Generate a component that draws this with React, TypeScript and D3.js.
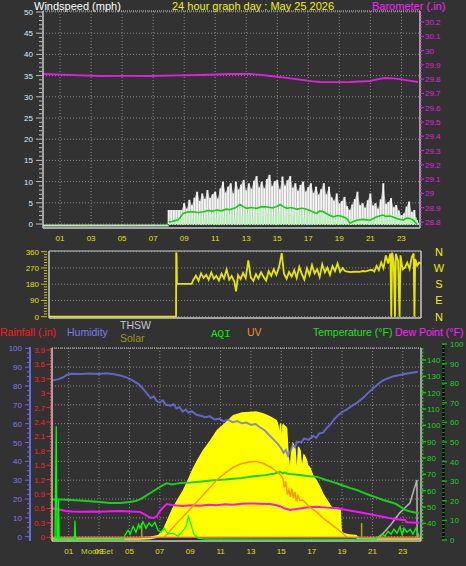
import React from "react";
import * as d3 from "d3";

type P = [number, number];

const FONT = "'Liberation Sans', Arial, Helvetica, sans-serif";
const MONO = "'Liberation Mono', 'DejaVu Sans Mono', monospace";
const BG = "#323232";
const GRID = "#8a8a8a";
const FRAME = "#c8c8c8";

// ---------- ticks / labels ----------
const hourTicks = [1, 3, 5, 7, 9, 11, 13, 15, 17, 19, 21, 23];
const hourTickLabels = ["01", "03", "05", "07", "09", "11", "13", "15", "17", "19", "21", "23"];
const windTicks = [0, 5, 10, 15, 20, 25, 30, 35, 40, 45, 50];
const baroTicks = [28.8, 28.9, 29.0, 29.1, 29.2, 29.3, 29.4, 29.5, 29.6, 29.7, 29.8, 29.9, 30.0, 30.1, 30.2];
const baroTickLabels = ["28.8", "28.9", "29", "29.1", "29.2", "29.3", "29.4", "29.5", "29.6", "29.7", "29.8", "29.9", "30", "30.1", "30.2"];
const dirTicks = [0, 90, 180, 270, 360];
const compassLabels = ["N", "E", "S", "W", "N"];
const humidityTicks = [0, 10, 20, 30, 40, 50, 60, 70, 80, 90, 100];
const rainTicks = [0, 0.3, 0.6, 0.9, 1.2, 1.5, 1.8, 2.1, 2.4, 2.7, 3.0, 3.3, 3.6, 3.9];
const rainTickLabels = ["0", "0.3", "0.6", "0.9", "1.2", "1.5", "1.8", "2.1", "2.4", "2.7", "3", "3.3", "3.6", "3.9"];
const tempTicks = [40, 50, 60, 70, 80, 90, 100, 110, 120, 130, 140];
const aqiTicks = [0, 10, 20, 30, 40, 50, 60, 70, 80, 90, 100];
const sunEvents = [5.81, 20.29];

// ---------- top panel data ----------
const barometer: P[] = [
  [-0.1, 29.836], [1.5, 29.83], [3.57, 29.822], [5.2, 29.823], [6.8, 29.822], [8.5, 29.826], [10.02, 29.829],
  [11.95, 29.836], [13.24, 29.836], [14.0, 29.83], [14.53, 29.822], [15.5, 29.81], [16.46, 29.797],
  [17.2, 29.786], [17.75, 29.78], [18.7, 29.779], [19.69, 29.78], [20.98, 29.787], [21.5, 29.8],
  [21.94, 29.808], [22.5, 29.806], [22.91, 29.8], [23.5, 29.79], [24.07, 29.78],
];

const windStartHour = 8.0;
const windStepHour = 1 / 6;
const gustValues = [
  3.3, 3.3, 3.3, 3.3, 3.3, 3.3, 4.9, 3.6, 5.7, 4.4, 6.2, 7.6, 5.4, 7.2, 5.9, 8.0, 6.1, 7.0, 7.6, 6.0,
  8.4, 10.0, 7.4, 8.8, 9.6, 7.2, 10.0, 8.1, 9.3, 10.4, 7.9, 9.6, 8.3, 10.2, 11.3, 8.6, 10.0, 8.4, 10.6, 11.6,
  8.9, 10.1, 10.4, 8.2, 11.2, 9.0, 10.3, 11.3, 8.5, 9.6, 7.8, 9.2, 10.0, 7.6, 8.7, 9.6, 7.3, 8.8, 6.9, 8.2,
  9.6, 7.0, 8.8, 6.3, 5.5, 7.2, 4.8, 5.4, 6.4, 4.2, 3.3, 4.6, 5.9, 7.6, 4.4, 4.9, 3.8, 5.6, 7.2, 4.3,
  4.9, 3.6, 5.8, 9.6, 4.7, 5.2, 6.1, 3.9, 4.5, 3.2, 2.0, 2.5, 4.1, 5.3, 2.8, 3.3, 0.9,
];
const speedValues = [
  1.2, 1.0, 1.3, 0.9, 1.2, 1.4, 2.2, 1.0, 2.6, 1.4, 3.0, 1.8, 2.8, 1.2, 3.2, 1.6, 2.5, 3.4, 1.5, 2.9,
  3.6, 1.7, 3.0, 2.2, 3.5, 1.4, 2.8, 3.8, 1.9, 3.1, 2.4, 3.6, 1.6, 3.3, 2.6, 3.9, 1.8, 3.2, 2.5, 3.7,
  1.9, 3.4, 2.7, 3.8, 1.7, 3.5, 2.4, 3.1, 1.8, 3.3, 2.2, 3.0, 1.6, 2.9, 2.3, 3.1, 1.5, 2.6, 1.9, 2.8,
  1.4, 2.4, 1.7, 2.0, 1.1, 1.8, 0.9, 1.6, 1.2, 0.8, 0.3, 1.1, 0.7, 1.5, 0.9, 1.3, 0.6, 1.2, 1.7, 0.9,
  1.9, 1.3, 2.2, 1.6, 2.4, 1.2, 2.0, 1.5, 2.3, 1.0, 0.8, 1.3, 1.8, 2.1, 1.0, 1.5, 0.3,
];
const speedIdle: P[] = [[-0.1, 0], [8.0, 0]];
const windAverage: P[] = [
  [8.0, 0.5], [8.2, 0.6], [8.4, 0.8], [8.62, 1.0], [8.8, 1.8], [8.94, 2.5], [9.2, 2.8], [9.59, 2.9], [9.9, 2.7],
  [10.23, 2.9], [10.6, 3.2], [10.8, 3.0], [11.1, 3.3], [11.4, 3.1], [11.7, 3.5], [11.95, 3.4], [12.3, 3.8],
  [12.6, 4.6], [12.8, 4.1], [13.03, 3.7], [13.3, 3.9], [13.67, 3.7], [14.0, 4.1], [14.32, 4.0], [14.7, 3.8],
  [15.0, 4.2], [15.18, 4.6], [15.4, 4.1], [15.61, 3.7], [15.9, 3.9], [16.25, 3.5], [16.6, 3.7], [16.9, 3.5],
  [17.2, 3.0], [17.54, 2.5], [17.75, 3.1], [17.97, 2.9], [18.3, 2.2], [18.61, 1.7], [18.9, 2.0], [19.26, 1.7],
  [19.5, 1.2], [19.69, 0.2], [19.9, 0.6], [20.12, 0.9], [20.5, 1.1], [20.98, 0.9], [21.2, 1.3], [21.41, 1.7],
  [21.8, 2.1], [22.0, 1.8], [22.27, 1.9], [22.5, 1.6], [22.7, 1.3], [22.9, 1.1], [23.12, 0.9], [23.35, 1.4],
  [23.56, 1.3], [23.8, 0.8], [23.99, 0.0],
];

// ---------- wind direction ----------
const windDirection: P[] = [
  [-0.1, 0], [8.2, 0], [8.21, 355], [8.23, 350], [8.26, 182], [9.22, 182],
  [9.33, 205], [9.5, 228], [9.67, 198], [9.83, 240], [10.0, 215], [10.17, 232], [10.33, 205], [10.5, 245],
  [10.67, 210], [10.83, 226], [11.0, 200], [11.17, 238], [11.33, 212], [11.5, 262], [11.67, 205], [11.83, 225],
  [12.0, 196], [12.12, 140], [12.25, 230], [12.42, 208], [12.58, 242], [12.75, 214], [12.92, 312], [13.08, 218],
  [13.25, 198], [13.42, 236], [13.58, 212], [13.75, 246], [13.92, 220], [14.08, 200], [14.25, 252], [14.42, 226],
  [14.58, 262], [14.75, 232], [14.92, 272], [15.1, 352], [15.25, 238], [15.42, 210], [15.58, 248], [15.75, 222],
  [15.92, 258], [16.08, 214], [16.25, 276], [16.42, 236], [16.58, 205], [16.75, 268], [16.92, 230], [17.08, 286],
  [17.25, 240], [17.42, 262], [17.58, 220], [17.75, 290], [17.92, 245], [18.08, 272], [18.25, 232], [18.42, 280],
  [18.58, 252], [18.75, 295], [18.92, 248], [19.08, 270], [19.25, 252], [19.4, 250], [19.6, 247], [19.8, 249],
  [20.0, 250], [20.2, 248], [20.4, 253], [20.6, 251], [20.8, 256], [21.0, 260], [21.15, 250], [21.3, 282],
  [21.45, 258], [21.6, 300], [21.75, 268], [21.9, 340], [22.05, 295], [22.2, 350], [22.26, 0], [22.32, 355],
  [22.42, 300], [22.5, 0], [22.56, 348], [22.7, 310], [22.8, 0], [22.86, 340], [23.0, 262], [23.15, 272],
  [23.3, 300], [23.45, 265], [23.6, 330], [23.72, 350], [23.77, 0], [23.82, 320], [23.95, 282], [24.08, 300],
  [24.18, 295],
];

// ---------- bottom panel ----------
const humidity: P[] = [
  [-0.05, 83], [0.3, 83.5], [0.6, 84.5], [0.9, 86], [1.2, 86.5], [1.8, 86.3], [2.4, 86.6], [3.0, 86.4],
  [3.5, 86.8], [4.0, 86.2], [4.4, 85.6], [4.8, 84.6], [5.2, 83], [5.6, 81], [5.9, 78.5], [6.2, 75.5],
  [6.4, 73.5], [6.6, 74.5], [6.8, 72], [7.0, 71.2], [7.2, 72.3], [7.4, 70], [7.7, 69.5], [7.9, 70.3],
  [8.1, 68], [8.3, 68.8], [8.5, 66.4], [8.7, 67.5], [8.9, 65.8], [9.1, 66.6], [9.4, 64.8], [9.7, 64.2],
  [10.0, 63.4], [10.3, 63.9], [10.6, 62.2], [10.9, 62.6], [11.2, 61.3], [11.5, 62], [11.8, 60.8], [12.1, 61.4],
  [12.4, 60.2], [12.7, 60.6], [13.0, 59.3], [13.3, 59.8], [13.6, 58], [13.9, 56.5], [14.2, 54], [14.5, 51.5],
  [14.8, 49], [15.0, 46.8], [15.15, 44.5], [15.3, 46], [15.45, 43], [15.6, 45.5], [15.75, 48.5], [15.9, 47.5],
  [16.05, 50.5], [16.3, 50], [16.5, 52.2], [16.8, 51.4], [17.1, 53.5], [17.3, 52.5], [17.5, 54.8], [17.75, 55.2],
  [18.0, 57.8], [18.25, 59.8], [18.5, 62.5], [18.75, 64.5], [19.0, 66.2], [19.3, 67.5], [19.6, 69.2], [19.9, 70.6],
  [20.2, 72.5], [20.5, 74.6], [20.8, 77], [21.1, 79], [21.4, 81.2], [21.7, 83], [22.0, 84], [22.4, 85.2],
  [22.8, 85.8], [23.2, 86.5], [23.6, 87], [24.0, 87.5],
];
const solar: P[] = [
  [-0.1, 0], [5.69, 0], [6.35, 3], [6.88, 10], [7.21, 40], [7.54, 100], [7.87, 160], [8.2, 205], [8.53, 249],
  [8.86, 305], [9.18, 365], [9.51, 415], [9.84, 460], [10.3, 510], [10.75, 566], [11.29, 605], [11.82, 646],
  [12.41, 660], [12.94, 663], [13.33, 665], [13.79, 656], [14.25, 640], [14.7, 619], [14.78, 600], [14.87, 524],
  [14.95, 610], [15.05, 460], [15.11, 600], [15.24, 590], [15.35, 584], [15.44, 450], [15.57, 339], [15.67, 450],
  [15.77, 500], [15.9, 478], [16.03, 320], [16.13, 480], [16.23, 470], [16.36, 360], [16.49, 440], [16.63, 420],
  [16.76, 380], [16.89, 372], [17.09, 330], [17.33, 302], [17.55, 270], [17.75, 233], [18.01, 200], [18.32, 160],
  [18.6, 158], [18.87, 153], [18.93, 60], [18.97, 28], [19.19, 20], [19.52, 14], [19.97, 10], [20.05, 0], [24.2, 0],
];
const uvIndex: P[] = [
  [7.3, 0], [7.67, 0.5], [8.07, 1.1], [8.53, 1.72], [8.99, 2.35], [9.3, 2.8], [9.65, 3.28], [10.17, 4.0],
  [10.75, 4.83], [11.29, 5.4], [11.82, 5.9], [12.35, 6.2], [12.94, 6.37], [13.33, 6.4], [13.79, 6.24],
  [14.25, 5.95], [14.7, 5.53], [14.91, 5.3], [15.11, 4.97], [15.2, 4.2], [15.3, 4.7], [15.4, 3.6], [15.5, 4.0],
  [15.6, 3.4], [15.7, 4.1], [15.8, 3.3], [15.9, 3.8], [16.0, 3.0], [16.1, 3.5], [16.23, 3.1], [16.42, 3.13],
  [16.89, 2.5], [17.33, 2.1], [17.75, 1.6], [18.21, 1.16], [18.67, 0.7], [19.08, 0.25], [19.3, 0],
];
const temperature: P[] = [
  [-0.1, 54.5], [0.5, 54.6], [1.09, 54.3], [1.74, 54], [2.4, 53.5], [3.06, 53], [3.72, 52.5], [4.38, 52.4],
  [5.04, 53], [5.4, 53.6], [5.69, 54.6], [6.0, 56.3], [6.35, 58.4], [6.6, 59.8], [6.88, 61.5], [7.15, 63],
  [7.45, 64.5], [7.8, 63.8], [8.1, 64.3], [8.53, 64.9], [9.0, 65], [9.65, 65.5], [10.2, 66], [10.75, 66.5],
  [11.3, 66.8], [11.82, 67.3], [12.4, 67.8], [12.94, 68.5], [13.4, 69], [13.92, 69.5], [14.3, 70.1], [14.57, 70.5],
  [14.91, 71.6], [15.1, 70.6], [15.24, 71.2], [15.4, 70.4], [15.57, 70.2], [15.9, 69.9], [16.23, 69.6], [16.6, 69.1],
  [16.89, 68.8], [17.33, 68.5], [17.65, 67.5], [17.95, 66.5], [18.3, 65.5], [18.65, 64.5], [19.0, 63.3], [19.26, 62.5],
  [19.6, 61.4], [19.97, 60.4], [20.4, 58.8], [20.84, 57.2], [21.3, 55.7], [21.7, 54.3], [22.1, 53.2], [22.56, 51.8],
  [22.9, 49.8], [23.15, 48.2], [23.5, 47.2], [23.8, 46.6], [24.05, 46],
];
const dewPoint: P[] = [
  [-0.1, 49.2], [0.3, 48.6], [0.8, 47.6], [1.2, 47.2], [1.74, 47], [2.5, 47.2], [3.06, 47], [3.8, 47.4],
  [4.4, 47.6], [5.0, 47.3], [5.69, 47], [6.0, 45.5], [6.35, 43.5], [6.6, 43.2], [6.8, 44.5], [7.01, 47.5],
  [7.25, 50], [7.45, 51.8], [7.8, 51.2], [8.1, 50.9], [8.53, 50.6], [9.0, 51.1], [9.65, 50.8], [10.2, 51.3],
  [10.75, 51.1], [11.3, 51.6], [11.82, 51.4], [12.4, 52], [12.94, 52.2], [13.6, 52], [14.25, 51.8], [14.6, 51.2],
  [14.91, 50.5], [15.2, 49.2], [15.57, 48.1], [15.9, 48.6], [16.23, 49], [16.8, 49.8], [17.33, 50.2], [18.0, 49.6],
  [18.65, 49.2], [19.3, 48.2], [19.97, 47.1], [20.4, 46.3], [20.84, 45.5], [21.3, 44.7], [21.7, 44], [22.1, 43.2],
  [22.56, 42.5], [22.9, 42.2], [23.15, 42], [23.25, 40.6], [23.6, 40.5], [24.05, 40.3],
];
const thsw: P[] = [[21.2, 30], [21.5, 31.8], [22.2, 39], [22.8, 46.4], [23.47, 52.4], [23.93, 66.5], [23.95, 30]];
const aqi: P[] = [
  [-0.1, 0], [0.1, 0.5], [0.18, 58], [0.23, 0.5], [0.3, 0.5], [0.33, 20], [0.37, 0.5], [1.38, 0.5], [1.41, 10],
  [1.45, 0.3], [4.6, 0.3], [4.71, 2.5], [4.91, 5], [5.05, 3], [5.24, 7], [5.43, 4], [5.6, 8], [5.69, 6],
  [5.89, 9.3], [6.09, 6], [6.29, 8.7], [6.48, 7], [6.68, 9], [6.88, 5], [7.08, 4], [7.28, 6], [7.54, 3],
  [7.87, 3.5], [8.2, 2], [8.46, 4], [8.73, 7], [8.88, 12], [9.05, 8], [9.25, 3], [9.51, 1], [9.98, 0.5],
  [21.17, 0.3], [21.37, 1.5], [21.63, 3], [21.83, 2], [22.03, 4.5], [22.23, 3], [22.42, 5.5], [22.62, 3.5],
  [22.82, 6.8], [22.96, 2.5], [23.08, 6], [23.28, 4], [23.48, 5.5], [23.67, 3], [23.87, 6], [24.07, 2],
];
const rainfall: P[] = [[-0.1, 0], [24.2, 0]];

const T_DOMAIN = [-0.1, 24.2];

export default function App() {
  const xTop = d3.scaleLinear().domain(T_DOMAIN).range([43, 420]);
  const xDir = d3.scaleLinear().domain(T_DOMAIN).range([49, 421]);
  const xBot = d3.scaleLinear().domain(T_DOMAIN).range([52, 421]);

  const yWind = d3.scaleLinear().domain([0, 50]).range([224, 12]);
  const yBaro = d3.scaleLinear().domain([28.8, 30.2]).range([222, 22]);
  const yDir = d3.scaleLinear().domain([0, 360]).range([316.7, 251.7]);
  const yHum = d3.scaleLinear().domain([0, 100]).range([536.7, 348.3]);
  const yRain = d3.scaleLinear().domain([0, 3.9]).range([537.3, 350]);
  const yTemp = d3.scaleLinear().domain([40, 140]).range([523.3, 360]);
  const yAqi = d3.scaleLinear().domain([0, 100]).range([540, 344]);
  const ySolar = d3.scaleLinear().domain([0, 1000]).range([537, 348]);
  const yUv = d3.scaleLinear().domain([0, 16]).range([537, 348]);

  const line = (x: d3.ScaleLinear<number, number>, y: d3.ScaleLinear<number, number>) =>
    d3.line<P>().x((d) => x(d[0])).y((d) => y(d[1]));

  const windHour = (i: number) => windStartHour + i * windStepHour;
  const gustArea = d3
    .area<number>()
    .x((_, i) => xTop(windHour(i)))
    .y0(yWind(0))
    .y1((d) => yWind(d));
  const solarArea = d3.area<P>().x((d) => xBot(d[0])).y0(ySolar(0)).y1((d) => ySolar(d[1]));

  const txt = (s: string, x: number, y: number, fill: string, size = 8, anchor = "start", family = FONT) => (
    <text x={x} y={y} fill={fill} fontSize={size} fontFamily={family} textAnchor={anchor as any}>
      {s}
    </text>
  );

  return (
    <svg width={466} height={566} style={{ position: "fixed", left: 0, top: 0, background: BG, display: "block" }}>
      <rect x={0} y={0} width={466} height={566} fill={BG} />

      {/* ================= TOP PANEL ================= */}
      {txt("Windspeed (mph)", 34, 9.5, "#ffffff", 11)}
      {txt("24 hour graph day : May 25 2026", 172, 9.5, "#f2f200", 11)}
      {txt("Barometer (.in)", 372, 9.5, "#ff20ff", 11)}

      <g>
        {windTicks.map((t) => (
          <line key={"wg" + t} x1={43} x2={420} y1={yWind(t)} y2={yWind(t)} stroke={GRID} strokeDasharray="1 2" />
        ))}
        {hourTicks.map((h) => (
          <line key={"wv" + h} x1={xTop(h)} x2={xTop(h)} y1={11} y2={228} stroke={GRID} strokeDasharray="1 2" />
        ))}
      </g>

      {/* wind gust envelope + bars */}
      <path d={gustArea(gustValues) || ""} fill="#a4a4a4" />
      {gustValues.map((v, i) => (
        <line key={"gb" + i} x1={xTop(windHour(i))} x2={xTop(windHour(i))} y1={yWind(0)} y2={yWind(v)} stroke="#f4f4f4" strokeWidth={2} />
      ))}
      {speedValues.map((v, i) => (
        <line
          key={"sb" + i}
          x1={xTop(windHour(i) + windStepHour / 2)}
          x2={xTop(windHour(i) + windStepHour / 2)}
          y1={yWind(0) + 1}
          y2={yWind(v)}
          stroke="#b8ecb8"
          strokeWidth={2}
        />
      ))}
      <path d={line(xTop, yWind)(speedIdle) || ""} fill="none" stroke="#b8ecb8" strokeWidth={2} transform="translate(0,1.5)" />
      <path d={line(xTop, yWind)(windAverage) || ""} fill="none" stroke="#10d010" strokeWidth={1.6} />
      <path d={line(xTop, yBaro)(barometer) || ""} fill="none" stroke="#e020e0" strokeWidth={1.8} />

      {/* frame */}
      <line x1={43} x2={420} y1={11} y2={11} stroke={FRAME} strokeDasharray="1 1" />
      <line x1={43} x2={43} y1={11} y2={228} stroke={FRAME} strokeWidth={1.5} />
      <line x1={420} x2={420} y1={11} y2={228} stroke={FRAME} strokeWidth={1.5} />
      <line x1={43} x2={420} y1={228} y2={228} stroke={FRAME} strokeWidth={1.5} />

      {/* wind axis */}
      {d3.range(0, 50.01, 1).map((t) => (
        <line key={"wm" + t} x1={t % 5 === 0 ? 36 : 39} x2={42} y1={yWind(t)} y2={yWind(t)} stroke="#bdbdbd" />
      ))}
      {windTicks.map((t) => (
        <g key={"wl" + t}>{txt(String(t), 33, yWind(t) + 3, "#dfeaf7", 8, "end")}</g>
      ))}
      {/* barometer axis */}
      <line x1={421} x2={421} y1={12} y2={226} stroke="#e020e0" strokeDasharray="1 2" strokeWidth={1.5} />
      {baroTicks.map((t, i) => (
        <g key={"bl" + t}>
          <line x1={420} x2={424} y1={yBaro(t)} y2={yBaro(t)} stroke="#e020e0" />
          {txt(baroTickLabels[i], 425, yBaro(t) + 3, "#e020e0", 8)}
        </g>
      ))}
      {/* top x labels */}
      {hourTicks.map((h, i) => (
        <g key={"xl" + h}>{txt(hourTickLabels[i], xTop(h), 241, "#e0e000", 8, "middle")}</g>
      ))}

      {/* ================= DIRECTION PANEL ================= */}
      {dirTicks.map((t) => (
        <line key={"dg" + t} x1={49} x2={421} y1={yDir(t)} y2={yDir(t)} stroke={GRID} strokeDasharray="1 2" />
      ))}
      <path d={line(xDir, yDir)(windDirection) || ""} fill="none" stroke="#e6e600" strokeWidth={1.8} />
      <line x1={49} x2={421} y1={251} y2={251} stroke={FRAME} />
      <line x1={49} x2={421} y1={318} y2={318} stroke={FRAME} strokeWidth={1.5} />
      <line x1={49} x2={49} y1={251} y2={318} stroke={FRAME} strokeWidth={1.5} />
      <line x1={421} x2={421} y1={251} y2={318} stroke={FRAME} strokeWidth={1.5} />
      {d3.range(0, 360.1, 15).map((t) => (
        <line key={"dm" + t} x1={t % 90 === 0 ? 41 : 44} x2={47} y1={yDir(t)} y2={yDir(t)} stroke="#c8c800" />
      ))}
      {dirTicks.map((t, i) => (
        <g key={"dl" + t}>
          {txt(String(t), 39, yDir(t) + 3, "#e0e000", 8, "end")}
          {txt(compassLabels[i], 439, yDir(t) + 4, "#f0f000", 11, "middle")}
        </g>
      ))}

      {/* ================= BOTTOM PANEL ================= */}
      {txt("Rainfall (.in)", 0, 336, "#ff1a1a", 10.5)}
      {txt("Humidity", 67, 336, "#7b7bef", 10.5)}
      {txt("THSW", 120, 329, "#c8c8c8", 10.5)}
      {txt("Solar", 120, 342, "#9a9a10", 10.5)}
      {txt("AQI", 211, 337, "#00f000", 11, "start", MONO)}
      {txt("UV", 247, 336, "#ff8c1a", 10.5)}
      {txt("Temperature (°F)", 313, 336, "#20e020", 10.5)}
      {txt("Dew Point (°F)", 395, 336, "#ff20ff", 10.5)}

      {humidityTicks.map((t) => (
        <line key={"hg" + t} x1={52} x2={421} y1={yHum(t)} y2={yHum(t)} stroke={GRID} strokeDasharray="1 2" />
      ))}
      {hourTicks.map((h) => (
        <line key={"bv" + h} x1={xBot(h)} x2={xBot(h)} y1={348} y2={541} stroke={GRID} strokeDasharray="1 2" />
      ))}

      <path d={solarArea(solar) || ""} fill="#ffff00" />
      <path d={line(xBot, ySolar)(solar) || ""} fill="none" stroke="#ffff00" strokeWidth={1.5} transform="translate(0,2)" />
      {sunEvents.map((h) => (
        <line key={"se" + h} x1={xBot(h)} x2={xBot(h)} y1={523} y2={537} stroke="#a8a810" strokeWidth={1.5} />
      ))}
      <path d={line(xBot, yHum)(humidity) || ""} fill="none" stroke="#7070e8" strokeOpacity={0.8} strokeWidth={2} />
      <path d={line(xBot, yTemp)(thsw) || ""} fill="none" stroke="#b4b4b4" strokeWidth={1.5} />
      <path d={line(xBot, yTemp)(temperature) || ""} fill="none" stroke="#18d018" strokeWidth={2} />
      <path d={line(xBot, yTemp)(dewPoint) || ""} fill="none" stroke="#ff10ff" strokeWidth={2} />
      <path d={line(xBot, yUv)(uvIndex) || ""} fill="none" stroke="#ff9410" strokeWidth={1.5} />
      <path d={line(xBot, yRain)(rainfall) || ""} fill="none" stroke="#ff6a6a" strokeWidth={1.5} strokeOpacity={0.85} />
      <path d={line(xBot, yAqi)(aqi) || ""} fill="none" stroke="#00ff00" strokeWidth={1.3} />

      {/* frame */}
      <line x1={52} x2={421} y1={348} y2={348} stroke={FRAME} strokeDasharray="1 1" />
      <line x1={52} x2={52} y1={348} y2={541} stroke={FRAME} strokeWidth={1.5} />
      <line x1={421} x2={421} y1={348} y2={541} stroke={FRAME} strokeWidth={1.5} />
      <line x1={52} x2={421} y1={541} y2={541} stroke={FRAME} strokeWidth={1.5} />

      {/* humidity axis */}
      <line x1={30} x2={30} y1={347} y2={541} stroke="#6a6ae6" strokeWidth={2} />
      {d3.range(0, 100.1, 2.5).map((t) => (
        <line key={"hm" + t} x1={t % 10 === 0 ? 25 : 27} x2={30} y1={yHum(t)} y2={yHum(t)} stroke="#6a6ae6" />
      ))}
      {humidityTicks.map((t) => (
        <g key={"hl" + t}>{txt(String(t), 22, yHum(t) + 3, "#7b7bef", 8, "end")}</g>
      ))}
      {/* rainfall axis */}
      <line x1={50.5} x2={50.5} y1={348} y2={540} stroke="#ff2020" strokeDasharray="2 1" />
      {rainTicks.map((t, i) => (
        <g key={"rl" + t}>
          <line x1={46.5} x2={51} y1={yRain(t)} y2={yRain(t)} stroke="#ff2020" />
          {txt(rainTickLabels[i], 45, yRain(t) + 3, "#ff2020", 8, "end")}
        </g>
      ))}
      {/* temperature axis */}
      <line x1={422.5} x2={422.5} y1={348} y2={541} stroke="#18c018" strokeDasharray="2 1.5" strokeWidth={1.5} />
      {tempTicks.map((t) => (
        <g key={"tl" + t}>
          <line x1={421} x2={426} y1={yTemp(t)} y2={yTemp(t)} stroke="#18c018" strokeWidth={1.5} />
          {txt(String(t), 427, yTemp(t) + 3, "#20d020", 8)}
        </g>
      ))}
      {/* aqi axis */}
      <line x1={443.5} x2={443.5} y1={344} y2={541} stroke="#0c0c0c" strokeWidth={2.5} />
      <line x1={443.5} x2={443.5} y1={344} y2={541} stroke="#10b010" strokeDasharray="1 3" strokeWidth={2} />
      {aqiTicks.map((t) => (
        <g key={"al" + t}>
          <line x1={442} x2={447} y1={yAqi(t)} y2={yAqi(t)} stroke="#10b010" strokeWidth={1.5} />
          {txt(String(t), 450, yAqi(t) + 3, "#20d020", 8)}
        </g>
      ))}
      {/* bottom x labels (MoonSet marker overlaps the 03 label, as in the source) */}
      {txt("MoonSet", 97, 554, "#d0d000", 8, "middle")}
      {hourTicks.map((h, i) => (
        <g key={"bx" + h}>{txt(hourTickLabels[i], xBot(h), 554, "#e0e000", 8, "middle")}</g>
      ))}
    </svg>
  );
}
